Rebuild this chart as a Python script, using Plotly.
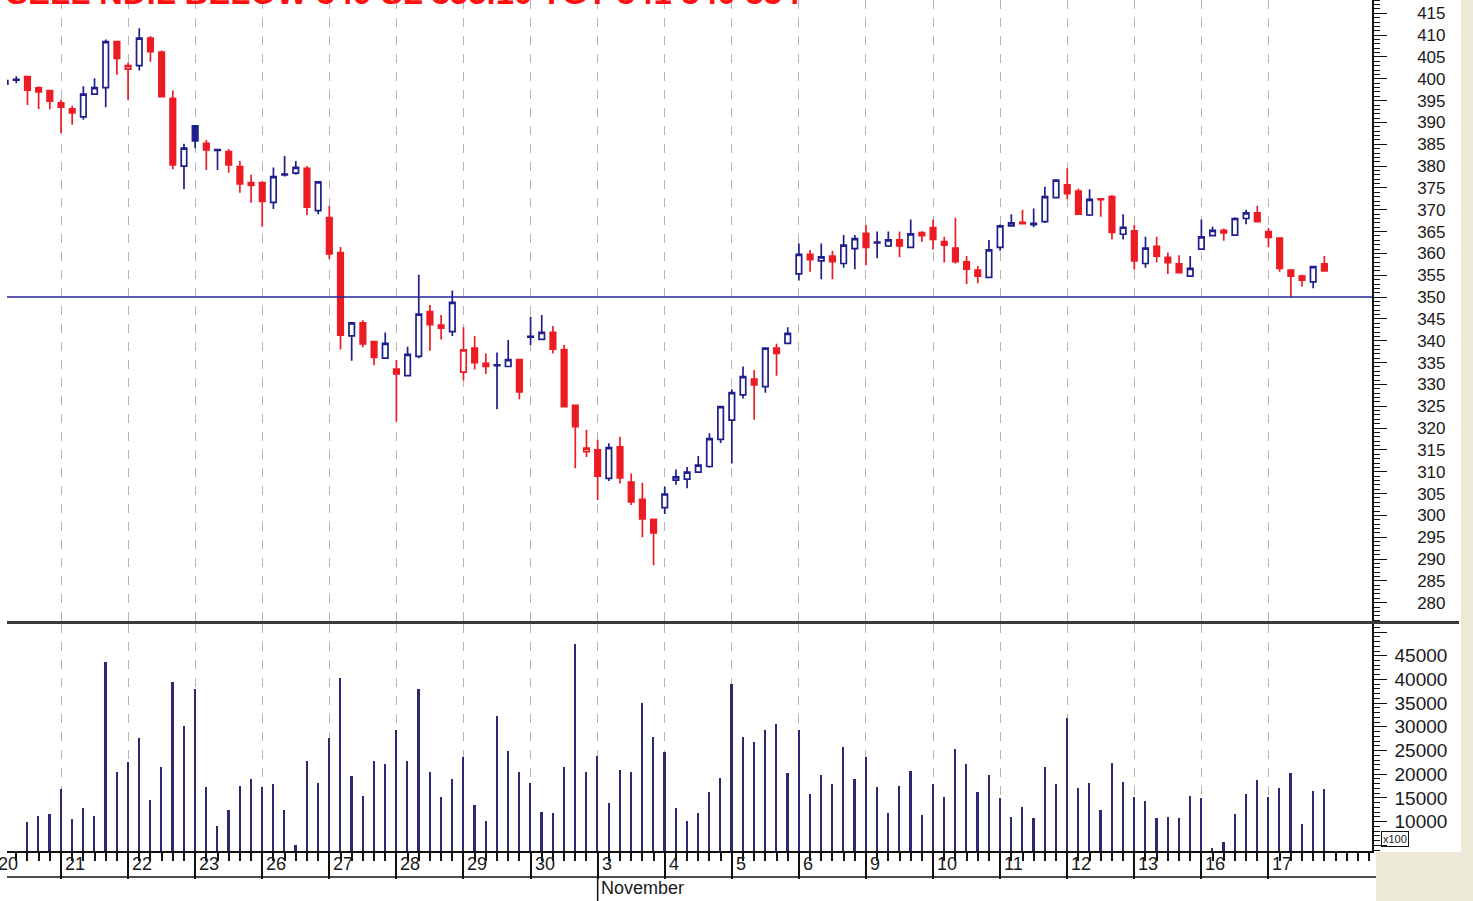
import plotly.graph_objects as go

W, H = 1473, 901

# ---------------- data ----------------
title_text = "SELL NDIL BELOW 349 SL 355.10 TGT 341 340 334"
day_labels = ["20", "21", "22", "23", "26", "27", "28", "29", "30", "3", "4",
              "5", "6", "9", "10", "11", "12", "13", "16", "17"]
month_label = "November"
month_start_day = "3"
bars_per_day = 6
first_bar = -5          # bar index of the first visible candle (day 21 starts at 0)
level_line = 350

opens = [398.8, 399.7, 400.5, 397.9, 397.3,
         394.5, 393.1, 391.3, 396.5, 398.0, 408.5,
         402.2, 403.0, 409.3, 406.1, 395.5, 380.0,
         389.2, 385.2, 383.6, 383.3, 379.9, 376.2,
         376.2, 371.7, 378.0, 378.4, 379.5, 369.8,
         368.2, 360.2, 341.1, 344.1, 339.8, 336.0,
         333.5, 332.0, 336.4, 346.7, 343.6, 342.1,
         332.8, 338.3, 334.8, 334.3, 334.1, 335.7,
         340.8, 340.3, 341.9, 338.0, 325.2, 314.6,
         315.0, 308.5, 315.7, 307.6, 303.7, 299.1,
         301.8, 308.1, 308.3, 309.9, 311.2, 317.4,
         321.8, 327.6, 331.2, 329.5, 338.3, 339.4,
         355.3, 359.8, 358.3, 359.4, 357.7, 361.1,
         364.6, 362.4, 361.7, 363.1, 361.4, 364.8,
         365.9, 362.7, 361.2, 358.1, 356.2, 354.5,
         361.4, 366.3, 367.1, 366.6, 367.3, 372.8,
         375.7, 374.3, 368.8, 372.5, 373.0, 364.4,
         365.2, 357.7, 361.6, 359.1, 357.6, 354.8,
         361.0, 364.1, 365.3, 364.2, 368.0, 369.3,
         365.0, 363.5, 356.2, 354.8, 353.5, 357.6]
highs = [401.0, 400.6, 400.6, 398.3, 397.5,
         395.2, 393.8, 398.3, 400.1, 409.0, 408.7,
         403.7, 411.6, 409.8, 406.5, 397.3, 385.1,
         389.3, 386.0, 383.9, 383.9, 381.2, 378.0,
         376.5, 379.7, 382.3, 381.2, 380.0, 376.6,
         370.9, 361.5, 344.3, 344.7, 340.0, 341.9,
         335.6, 338.6, 355.1, 348.2, 345.9, 351.5,
         343.1, 341.1, 337.1, 337.3, 340.2, 335.8,
         345.5, 345.9, 343.4, 339.0, 325.4, 319.6,
         317.3, 316.5, 318.0, 309.6, 307.5, 299.3,
         306.6, 310.5, 311.1, 313.6, 318.8, 325.1,
         328.9, 334.1, 333.3, 338.5, 339.3, 343.1,
         362.3, 360.8, 362.3, 360.6, 364.2, 364.2,
         366.5, 365.0, 365.0, 365.0, 367.8, 365.1,
         367.8, 363.8, 368.2, 359.4, 357.1, 363.1,
         366.6, 369.0, 370.0, 370.3, 375.3, 377.0,
         379.5, 374.9, 374.7, 372.6, 373.4, 369.0,
         366.5, 363.8, 363.8, 360.2, 359.6, 359.4,
         367.8, 366.1, 365.7, 368.3, 370.0, 370.9,
         365.8, 363.7, 356.4, 355.1, 357.2, 359.4]
lows = [398.5, 399.0, 394.0, 393.1, 393.0,
        387.6, 389.5, 390.6, 396.3, 393.5, 400.9,
        395.1, 401.9, 403.9, 395.7, 379.3, 374.7,
        384.1, 379.1, 379.1, 378.5, 373.9, 371.6,
        366.1, 370.2, 377.6, 378.0, 368.8, 369.0,
        358.7, 338.0, 335.4, 338.5, 334.4, 335.8,
        321.5, 331.8, 336.0, 337.7, 340.3, 341.1,
        330.9, 333.4, 332.4, 324.3, 334.0, 326.6,
        339.0, 340.1, 337.1, 324.7, 310.8, 313.4,
        303.5, 307.9, 307.3, 302.4, 295.0, 288.6,
        300.3, 307.0, 306.2, 309.7, 310.9, 316.6,
        311.9, 326.8, 321.9, 328.1, 332.0, 339.3,
        353.8, 355.8, 354.1, 354.1, 356.7, 356.4,
        357.3, 358.9, 361.5, 359.1, 361.2, 362.7,
        360.9, 357.9, 357.7, 353.0, 353.2, 354.3,
        360.6, 366.2, 366.6, 366.0, 367.0, 372.6,
        372.4, 368.8, 368.6, 368.4, 363.2, 363.2,
        356.3, 356.7, 357.9, 355.3, 355.4, 354.6,
        360.8, 364.0, 362.9, 364.0, 366.7, 367.1,
        361.4, 355.8, 350.0, 352.4, 352.0, 355.8]
closes = [399.6, 399.9, 397.4, 397.0, 394.9,
          393.5, 392.2, 396.5, 398.0, 408.5, 404.7,
          403.0, 409.3, 406.2, 395.9, 380.3, 384.1,
          385.8, 383.7, 383.8, 380.3, 375.9, 375.6,
          371.9, 377.6, 378.2, 379.7, 370.6, 376.4,
          359.9, 341.3, 344.1, 339.3, 336.2, 339.4,
          332.4, 336.9, 346.1, 343.7, 342.9, 348.8,
          337.9, 335.0, 334.1, 334.5, 335.7, 328.3,
          341.0, 341.9, 338.1, 324.9, 320.3, 315.4,
          309.0, 315.5, 308.6, 303.1, 299.2, 296.0,
          304.9, 308.8, 309.9, 311.5, 317.6, 324.9,
          328.1, 331.8, 329.9, 338.3, 337.1, 341.7,
          359.8, 358.6, 359.2, 358.1, 361.9, 363.4,
          361.4, 362.6, 363.1, 361.7, 364.5, 364.1,
          363.2, 361.9, 358.1, 356.4, 354.8, 360.8,
          366.3, 367.0, 366.8, 366.9, 373.0, 376.8,
          373.7, 369.0, 372.4, 372.3, 364.8, 366.0,
          358.3, 361.2, 359.4, 357.9, 355.6, 356.6,
          363.8, 365.3, 364.7, 368.0, 369.3, 367.3,
          363.7, 356.6, 354.8, 353.9, 357.0, 356.0]
volumes = [None, None, 9860, 11200, 11550,
           16900, 10490, 12820, 11200, 43660, 20560,
           22680, 27600, 14580, 21620, 39370, 30280,
           38030, 17250, 9160, 12470, 17600, 18940,
           17250, 17890, 12470, 5070, 22890, 18240,
           27600, 40280, 19650, 15490, 22890, 22180,
           29370, 22890, 38030, 20560, 15140, 18940,
           23590, 13520, 10140, 32320, 24930, 20560,
           18240, 12110, 11900, 21620, 47460, 20560,
           23940, 13870, 20920, 20420, 35000, 27960,
           24650, 12820, 10140, 11900, 16200, 19160,
           39080, 27960, 26900, 29230, 30630, 20210,
           29370, 15850, 19860, 17890, 25850, 18940,
           23590, 17250, 11760, 17600, 20770, 11410,
           17890, 15140, 25280, 22180, 16200, 19860,
           14930, 11060, 13170, 10700, 21620, 17890,
           31970, 17180, 18240, 12470, 22460, 18450,
           15280, 14440, 10850, 11060, 10850, 15490,
           14930, 4370, 5780, 11550, 15850, 18800,
           15140, 17180, 20350, 9510, 16550, 16830]

# ---------------- styling ----------------
RED = "#ec1c24"
BLUE = "#1e1e8c"
VOL = "#2a2a72"
GRID = "#b4b4b4"
FONT = "Liberation Sans, Arial, sans-serif"

xs = list(range(first_bar, first_bar + len(opens)))
day_starts = [(k - 1) * bars_per_day for k in range(len(day_labels))]
x_lo, x_hi = -4.83, 117.26


def px_x(p):
    return p / W


def px_y(p):
    return 1 - p / H


fig = go.Figure()

# candle classes: colour by change vs previous close, fill by close vs open
groups = {}
for k in range(len(xs)):
    prev_c = closes[k - 1] if k > 0 else opens[k]
    col = BLUE if closes[k] >= prev_c else RED
    hollow = closes[k] >= opens[k]
    groups.setdefault((col, hollow), []).append(k)

for (col, hollow), idx in groups.items():
    fill = "white" if hollow else col
    style = dict(line=dict(color=col, width=1.7), fillcolor=fill)
    fig.add_trace(go.Candlestick(
        x=[xs[k] for k in idx],
        open=[opens[k] for k in idx], high=[highs[k] for k in idx],
        low=[lows[k] for k in idx], close=[closes[k] for k in idx],
        increasing=style, decreasing=style, whiskerwidth=0,
        showlegend=False, xaxis="x", yaxis="y"))

fig.add_trace(go.Bar(x=xs, y=volumes, width=0.15, marker=dict(color=VOL, line_width=0),
                     base=0, showlegend=False, xaxis="x2", yaxis="y2"))

xdom = [px_x(7), px_x(1372)]
fig.update_layout(
    width=W, height=H, margin=dict(l=0, r=0, t=0, b=0),
    paper_bgcolor="white", plot_bgcolor="white",
    font=dict(family=FONT, color="#1a1a1a"),
    bargap=0,
    xaxis=dict(domain=xdom, range=[x_lo, x_hi], anchor="y",
               tickmode="array", tickvals=day_starts, showticklabels=False,
               showgrid=True, gridcolor=GRID, griddash="dash", gridwidth=1,
               zeroline=False, showline=False, ticks="",
               rangeslider=dict(visible=False)),
    yaxis=dict(domain=[px_y(621), 1], range=[275.81, 418.05], side="right",
               anchor="x", showgrid=False, zeroline=False,
               showline=True, linecolor="#111", linewidth=1.5,
               ticks="outside", ticklen=13, tickcolor="#111", tickwidth=1,
               tick0=0, dtick=5, ticklabelstandoff=27,
               minor=dict(dtick=1, tick0=0, ticks="outside", ticklen=6,
                          tickcolor="#111", showgrid=False),
               tickfont=dict(size=17, color="#1a1a1a")),
    xaxis2=dict(domain=xdom, range=[x_lo, x_hi], anchor="y2",
                tickmode="array", tickvals=day_starts, showticklabels=False,
                showgrid=True, gridcolor=GRID, griddash="dash", gridwidth=1,
                zeroline=False, showline=True, linecolor="#111", linewidth=1.5,
                ticks="outside", ticklen=26, tickcolor="#111", tickwidth=1.5,
                minor=dict(tick0=0, dtick=1, ticks="outside", ticklen=8,
                           tickcolor="#111", tickwidth=1.5, showgrid=False)),
    yaxis2=dict(domain=[px_y(851), px_y(624)], range=[3800, 51700], side="right",
                anchor="x2", showgrid=False, zeroline=False,
                showline=True, linecolor="#111", linewidth=1.5,
                ticks="outside", ticklen=13, tickcolor="#111",
                tickmode="array", tickvals=list(range(5000, 50001, 5000)),
                ticktext=[""] + [str(v) for v in range(10000, 45001, 5000)] + [""],
                ticklabelstandoff=4,
                minor=dict(dtick=1000, tick0=0, ticks="outside", ticklen=6,
                           tickcolor="#111", showgrid=False),
                tickfont=dict(size=19, color="#1a1a1a")),
)

shapes = []
# beige window chrome
shapes.append(dict(type="rect", xref="paper", yref="paper", x0=px_x(1376), x1=1,
                   y0=0, y1=px_y(852), fillcolor="#ece9d8", line_width=0, layer="below"))
shapes.append(dict(type="rect", xref="paper", yref="paper", x0=px_x(1461), x1=1,
                   y0=px_y(852), y1=1, fillcolor="#ece9d8", line_width=0, layer="below"))
# support / resistance level
shapes.append(dict(type="line", xref="paper", yref="y", x0=xdom[0], x1=xdom[1],
                   y0=level_line, y1=level_line, line=dict(color="#25259a", width=1.5)))
# panel separator
shapes.append(dict(type="line", xref="paper", yref="paper", x0=px_x(7), x1=px_x(1459),
                   y0=px_y(622.5), y1=px_y(622.5), line=dict(color="#3a3a3a", width=3)))
# date row bottom line
shapes.append(dict(type="line", xref="paper", yref="paper", x0=px_x(7), x1=px_x(1376),
                   y0=px_y(877), y1=px_y(877), line=dict(color="#111", width=1.5)))
# month divider
m_idx = day_starts[day_labels.index(month_start_day)]
shapes.append(dict(type="line", xref="x2", yref="paper", x0=m_idx, x1=m_idx,
                   y0=0, y1=px_y(877), line=dict(color="#111", width=1.5)))
fig.update_layout(shapes=shapes)

ann = []
x_span = x_hi - x_lo
for lab, d in zip(day_labels, day_starts):
    if d < x_lo:
        xp = xdom[0] + (d - x_lo) / x_span * (xdom[1] - xdom[0])
        ann.append(dict(x=xp, y=px_y(864), xref="paper", yref="paper", text=lab,
                        showarrow=False, xanchor="left", yanchor="middle", xshift=2,
                        font=dict(size=18, color="#1a1a1a")))
    else:
        ann.append(dict(x=d, y=px_y(864), xref="x2", yref="paper", text=lab,
                        showarrow=False, xanchor="left", yanchor="middle", xshift=2,
                        font=dict(size=18, color="#1a1a1a")))
ann.append(dict(x=m_idx, y=px_y(888), xref="x2", yref="paper", text=month_label,
                showarrow=False, xanchor="left", yanchor="middle", xshift=1,
                font=dict(size=18, color="#1a1a1a")))
ann.append(dict(x=px_x(1381), y=px_y(839), xref="paper", yref="paper", text="x100",
                showarrow=False, xanchor="left", yanchor="middle",
                bordercolor="#111", borderwidth=1, borderpad=1,
                font=dict(size=11, color="#1a1a1a")))
ann.append(dict(x=px_x(4), y=px_y(13), xref="paper", yref="paper", text="<b>" + title_text + "</b>",
                showarrow=False, xanchor="left", yanchor="bottom",
                font=dict(size=33, color="#ff1010", family="Liberation Sans, Arial")))
fig.update_layout(annotations=ann)

fig.write_html("out.html", config={"displayModeBar": False},
               post_script="document.body.style.margin='0px';")
